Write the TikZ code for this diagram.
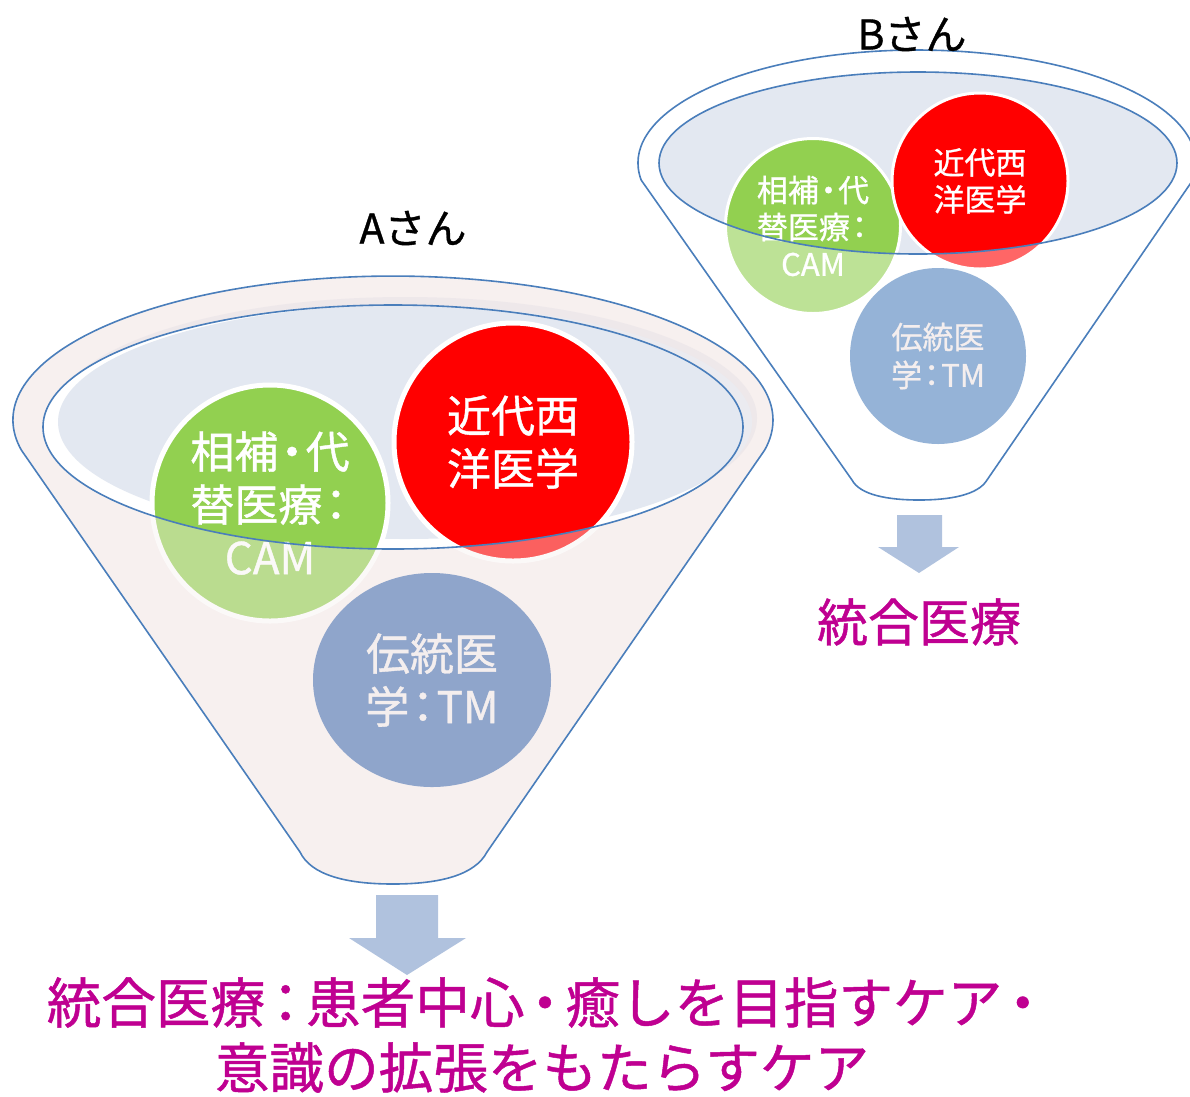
\documentclass[tikz,border=0pt]{standalone}
\usepackage{fontspec}
\setmainfont{Noto Sans CJK JP}[FakeBold=0.9]
\usetikzlibrary{shapes.geometric}
\definecolor{outl}{HTML}{4A7EBB}
\definecolor{bodyA}{HTML}{F7F0EF}
\definecolor{bandA}{HTML}{E8E3E8}
\definecolor{bowl}{HTML}{E3E8F1}
\definecolor{cgreen}{HTML}{92D050}
\definecolor{cred}{HTML}{FF0000}
\definecolor{ctmA}{HTML}{8FA5CB}
\definecolor{ctmB}{HTML}{95B3D7}
\definecolor{arrowc}{HTML}{B0C2DE}
\definecolor{mag}{HTML}{BF0091}
\definecolor{tmtext}{HTML}{F4EEEE}
\newcommand\hdot[1][0.62em]{\makebox[#1][c]{・}}
\newcommand\hcol[1][0.62em]{\makebox[#1][c]{：}}
\newcommand\funnelA{(300,852) -- (21.3,450) arc[start angle=168, end angle=372, x radius=380, y radius=144] -- (487,852) .. controls (475,875) and (440,884) .. (393,884) .. controls (346,884) and (311,875) .. (300,852) -- cycle}
\newcommand\funnelB{(852,480) -- (641.2,180.1) arc[start angle=171.3, end angle=368.7, x radius=279, y radius=113] -- (987,480) .. controls (978,495) and (950,500) .. (919,500) .. controls (888,500) and (860,495) .. (852,480) -- cycle}
\begin{document}
\begin{tikzpicture}[x=1pt,y=-1pt,
  outline/.style={draw=outl, line width=1.6pt},
  ballA/.style={circle, draw=white, line width=5pt, inner sep=0pt, text=white, align=center, font=\fontsize{44}{53}\selectfont},
  ballB/.style={circle, draw=white, line width=3pt, inner sep=0pt, text=white, align=center, font=\fontsize{31}{37}\selectfont},
  person/.style={text=black, inner sep=0pt, font=\fontsize{41}{41}\selectfont},
  result/.style={text=mag, inner sep=0pt, align=center},
  blockarrow/.style={fill=arrowc}]
\useasboundingbox (0,0) rectangle (1190,1096);
\clip (0,0) rectangle (1190,1096);

% ---------- Funnel A ----------
\fill[bodyA] \funnelA;
\fill[bandA] (405,418) ellipse[x radius=352, y radius=121];
\fill[white] (393,427) ellipse[x radius=350, y radius=122];
\fill[bowl] (405,422) ellipse[x radius=347, y radius=117];
\node[ballA, fill=cgreen, minimum size=236] (camA) at (270,503) {相補\hdot 代\\替医療\hcol\\CAM};
\node[ballA, fill=cred, minimum size=238] (westA) at (513,442) {近代西\\洋医学};
\fill[bodyA, fill opacity=0.4, even odd rule] \funnelA (393,427) ellipse[x radius=350, y radius=122];
\node[ellipse, fill=ctmA, inner sep=0pt, minimum width=238, minimum height=214, text=tmtext, align=center, font=\fontsize{44}{53}\selectfont] (tmA) at (432,680) {伝統医\\学\hcol TM};
\draw[outline] \funnelA;
\draw[outline] (393,427) ellipse[x radius=350, y radius=122];

% ---------- Funnel B ----------
\fill[white] \funnelB;
\fill[bowl] (918,163) ellipse[x radius=259, y radius=91];
\node[ballB, fill=cgreen, minimum size=175] (camB) at (813,226) {相補\hdot 代\\替医療\hcol\\CAM};
\node[ballB, fill=cred, minimum size=176] (westB) at (980,181) {近代西\\洋医学};
\fill[white, fill opacity=0.4, even odd rule] \funnelB (918,163) ellipse[x radius=259, y radius=91];
\node[circle, fill=ctmB, inner sep=0pt, minimum size=176, text=tmtext, align=center, font=\fontsize{31}{38}\selectfont] (tmB) at (938,356) {伝統医\\学\hcol TM};
\draw[outline] \funnelB;
\draw[outline] (918,163) ellipse[x radius=259, y radius=91];

% ---------- titles ----------
\node[person] (nameA) at (413,228) {Aさん};
\node[person] (nameB) at (912,34) {Bさん};

% ---------- arrows ----------
\fill[blockarrow] (376,895) -- (438,895) -- (438,938) -- (466,938) -- (407,975) -- (349,938) -- (376,938) -- cycle;
\fill[blockarrow] (897,515) -- (942,515) -- (942,547) -- (959,547) -- (919,573) -- (878,547) -- (897,547) -- cycle;

% ---------- results ----------
\node[result, font=\fontsize{51}{51}\selectfont] (resB) at (919,622) {統合医療};
\node[result, font=\fontsize{54.6}{65}\selectfont] (resA) at (542,1035) {\hspace*{6pt}統合医療\hcol[0.75em]患者中心\hdot[0.75em]癒しを目指すケア\hdot[0.75em]\\意識の拡張をもたらすケア};
\end{tikzpicture}
\end{document}
